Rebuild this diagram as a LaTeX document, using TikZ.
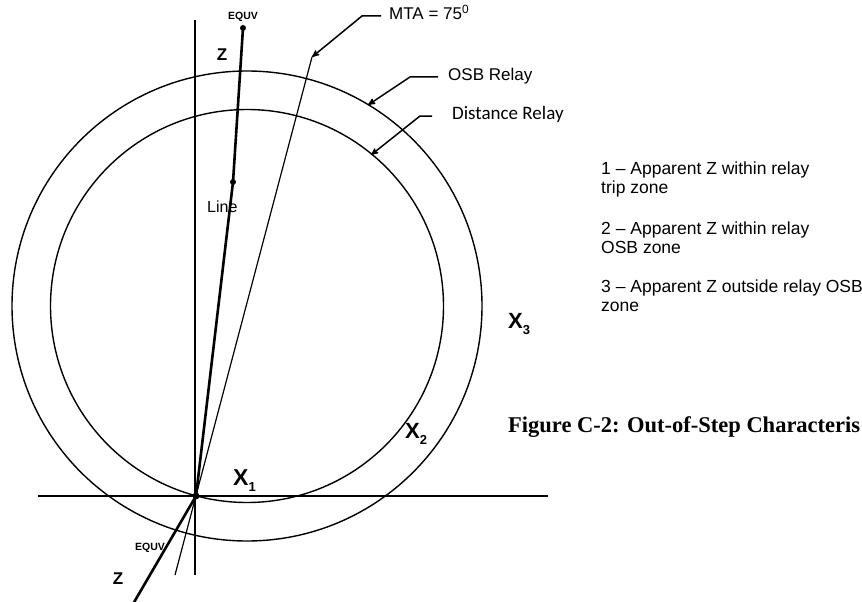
\documentclass[tikz,border=0pt]{standalone}
\usepackage{fontspec}
\setmainfont{Liberation Sans}
\newfontfamily\calibrifont{Carlito}
\newfontfamily\timesfont{Liberation Serif}
\usetikzlibrary{arrows}
\tikzset{
  lbl/.style={inner sep=0pt, text height=0.72em, text depth=0pt, font=\fontsize{17}{19}\selectfont},
  xlbl/.style={inner sep=0pt, anchor=base west, font=\fontsize{22}{22}\selectfont\bfseries},
  note/.style={inner sep=0pt, anchor=base west, align=left, font=\fontsize{17.5}{19}\selectfont},
  leader/.style={->, line width=1.5pt},
  relay/.style={line width=1.4pt},
  axis/.style={line width=1.1pt},
  imp/.style={line width=2.6pt, line join=round},
}
\newcommand{\xsub}[1]{X\raisebox{-6pt}{\fontsize{13}{13}\selectfont #1}}

\begin{document}
\begin{tikzpicture}[x=1pt, y=-1pt, >=stealth']
  \useasboundingbox (0,0) rectangle (862,602);
  % Define the points
  \coordinate (O) at (196,496);
  \coordinate (ctr) at (247,306);
  \coordinate (equvA) at (243,28);
  \coordinate (lineB) at (233,182);
  \coordinate (equvB) at (133,604);
  \coordinate (mtaTop) at (312,57);
  \coordinate (mtaLow) at (175,575);
  \coordinate (hL) at (38,496);
  \coordinate (hR) at (548,496);
  \coordinate (vT) at (195,20);
  \coordinate (vB) at (195,575);

  % Axes and relay circles
  \draw[axis] (hL) -- (hR);
  \draw[axis] (vT) -- (vB);
  \draw[relay] (ctr) circle (235);
  \draw[relay] (ctr) circle (196.5);

  % MTA line and impedance locus
  \draw[line width=1.2pt] (mtaLow) -- (mtaTop);
  \draw[imp] (equvA) -- (lineB) -- (O) -- (equvB);
  \fill (equvA) circle (3);
  \fill (lineB) circle (3);
  \fill (O) circle (3.5);

  % Labels on the locus
  \node[anchor=base, font=\fontsize{10.5}{11}\selectfont\bfseries] (equvTop) at (243,19.5) {EQUV};
  \node[anchor=base, font=\fontsize{17}{17}\selectfont\bfseries] (zTop) at (222,61) {Z};
  \node[anchor=base west, inner sep=0pt, font=\fontsize{16}{16}\selectfont] (lineLbl) at (207,212) {Line};
  \node[anchor=base west, inner sep=0pt, font=\fontsize{10.5}{11}\selectfont\bfseries] (equvBot) at (135,550.5) {EQUV};
  \node[anchor=base, font=\fontsize{17}{17}\selectfont\bfseries] (zBot) at (118,584) {Z};

  % Zone points
  \node[xlbl, font=\fontsize{23}{23}\selectfont\bfseries] (x1) at (233,485) {\xsub{1}};
  \node[xlbl] (x2) at (405,438) {\xsub{2}};
  \node[xlbl] (x3) at (508,328) {\xsub{3}};

  % Leaders
  \node[lbl, anchor=west, inner xsep=8pt] (mta) at (381,16) {MTA = 75\textsuperscript{0}};
  \coordinate (mtaBend) at (362,16);
  \draw[leader] (mta.west) -- (mtaBend) -- (mtaTop);
  \node[lbl, anchor=west, inner xsep=10pt] (osb) at (438,77) {OSB Relay};
  \coordinate (osbBend) at (410,77);
  \coordinate (osbTip) at (368,105);
  \draw[leader] (osb.west) -- (osbBend) -- (osbTip);
  \node[lbl, anchor=west, inner xsep=20pt, font=\calibrifont\fontsize{19}{19}\selectfont] (dist) at (432,116) {Distance Relay};
  \coordinate (distBend) at (420,116);
  \coordinate (distTip) at (371,155);
  \draw[leader] (dist.west) -- (distBend) -- (distTip);

  % Zone notes (base = last line)
  \node[note] (n1) at (601,193) {1 -- Apparent Z within relay\\trip zone};
  \node[note] (n2) at (601,253) {2 -- Apparent Z within relay\\OSB zone};
  \node[note] (n3) at (601,311) {3 -- Apparent Z outside relay OSB\\zone};

  \node[anchor=base west, inner sep=0pt, font=\timesfont\bfseries\fontsize{22.5}{24}\selectfont] (cap) at (508,432.5) {Figure C-2: Out-of-Step Characteris};
\end{tikzpicture}
\end{document}
